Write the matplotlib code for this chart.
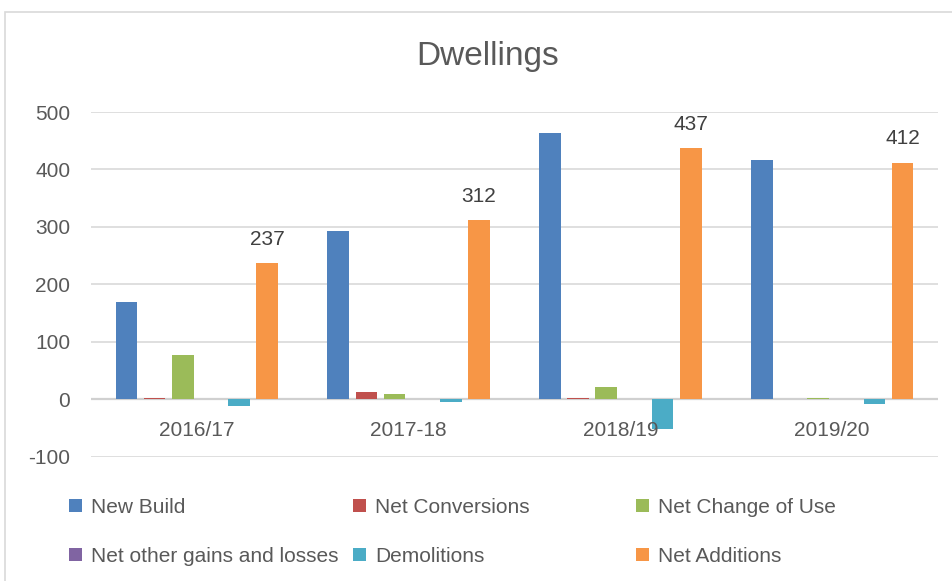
import numpy as np
import matplotlib.pyplot as plt
from matplotlib.patches import Rectangle

years = ["2016/17", "2017-18", "2018/19", "2019/20"]
series = ["New Build", "Net Conversions", "Net Change of Use",
          "Net other gains and losses", "Demolitions", "Net Additions"]
new_build = [169, 293, 464, 416]
net_conversions = [3, 13, 3, 1]
net_change_of_use = [77, 10, 22, 3]
net_other = [0, 1, 0, 0]
demolitions = [-12, -5, -52, -8]
net_additions = [237, 312, 437, 412]

colors = ["#4F81BD", "#C0504D", "#9BBB59", "#8064A2", "#4BACC6", "#F79646"]
values = [new_build, net_conversions, net_change_of_use, net_other, demolitions, net_additions]

plt.rcParams['font.family'] = ['Liberation Sans', 'DejaVu Sans']
plt.rcParams['axes.unicode_minus'] = False
txt = "#595959"

fig = plt.figure(figsize=(9.52, 5.81), dpi=100)
ax = fig.add_axes([91/952, 1-456.7/581, (938-91)/952, (456.7-112)/581])

# outer chart border
fig.patches.append(Rectangle((4.5/952, -0.05), 1.1, 1-12/581+0.05, transform=fig.transFigure,
                             fill=False, edgecolor="#d9d9d9", linewidth=1.2))

x = np.arange(len(years))
step = 0.133
width = 0.102
bars = []
for i, (name, vals) in enumerate(zip(series, values)):
    b = ax.bar(x + (i - 2.5) * step, vals, width, color=colors[i], label=name, zorder=3)
    bars.append(b)

for xi, v in zip(x + 2.5 * step, net_additions):
    ax.text(xi, v + 25, str(v), ha="center", va="bottom", fontsize=15, color="#404040")

for xi, lab in zip(x, years):
    ax.text(xi, -54, lab, ha="center", va="center", fontsize=15, color=txt)

ax.set_xlim(-0.5, 3.5)
ax.set_ylim(-100, 500)
ax.set_yticks(range(-100, 501, 100))
ax.grid(axis="y", color="#d9d9d9", linewidth=1.2, zorder=0)
ax.axhline(0, color="#d0d0d0", linewidth=1.6, zorder=2)
ax.set_xticks([])
ax.tick_params(axis="y", length=0, labelsize=15, labelcolor=txt, pad=15)
for s in ax.spines.values():
    s.set_visible(False)

fig.text(488/952, 1-57/581, "Dwellings", ha="center", va="center", fontsize=24, color=txt)

# legend in three fixed columns like Excel
for c, xpos in enumerate([69, 353, 636]):
    hs = [bars[c], bars[c + 3]]
    fig.legend(hs, [series[c], series[c + 3]], loc="upper left",
               bbox_to_anchor=(xpos/952, 1-498/581), frameon=False, fontsize=15,
               labelcolor=txt, handlelength=0.6, handleheight=0.6, handletextpad=0.45,
               labelspacing=1.45, borderpad=0, borderaxespad=0)

fig.savefig("out.png", dpi=100)
